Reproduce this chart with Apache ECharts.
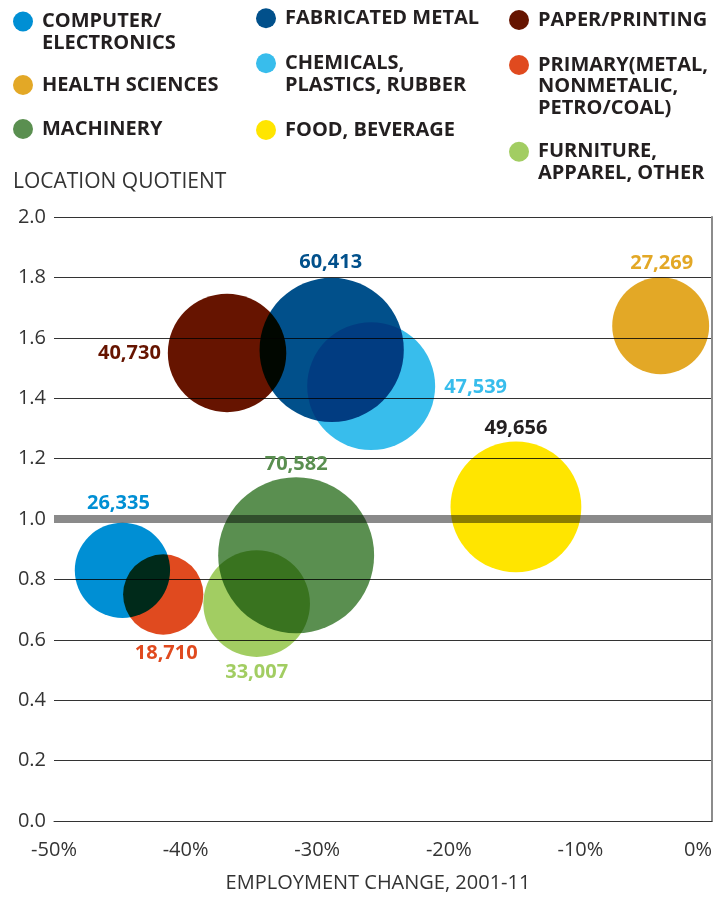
<!DOCTYPE html>
<html><head><meta charset="utf-8">
<script src="https://cdn.jsdelivr.net/npm/echarts@6/dist/echarts.min.js"></script>
<style>html,body{margin:0;padding:0;background:#fff}#chart{width:724px;height:898px}</style>
</head><body><div id="chart"></div>
<script>
// ---- data ----
const industries = [
  'COMPUTER/\nELECTRONICS',
  'HEALTH SCIENCES',
  'MACHINERY',
  'FABRICATED METAL',
  'CHEMICALS,\nPLASTICS, RUBBER',
  'FOOD, BEVERAGE',
  'PAPER/PRINTING',
  'PRIMARY(METAL,\nNONMETALIC,\nPETRO/COAL)',
  'FURNITURE,\nAPPAREL, OTHER'
];
const employmentChange = [-44.8, -3.9, -31.6, -28.9, -25.9, -14.9, -36.85, -41.7, -34.6];
const locationQuotient = [0.83, 1.64, 0.88, 1.56, 1.44, 1.04, 1.55, 0.75, 0.72];
const employment = [26335, 27269, 70582, 60413, 47539, 49656, 40730, 18710, 33007];
const referenceLQ = [1.0];

// ---- styles ----
const FONT = 'Open Sans';
const colors = ['#008fd4', '#e3a826', '#5a8f50', '#01508b', '#38bdec', '#ffe500', '#661400', '#e04a1f', '#a2cd62'];
const labelColors = ['#008fd4', '#e3a826', '#5a8f50', '#01508b', '#38bdec', '#231f20', '#661400', '#e04a1f', '#a2cd62'];
const labelPositions = ['top', 'top', 'top', 'top', 'right', 'top', 'left', 'bottom', 'bottom'];
const labelDistances = [9, 4, 2.5, 5, 9, 3.7, 7, 8.5, 5.3];
const labelOffsets = [[-4, 0], [1, 0], [0, 0], [-1, 0], [0, 1], [0, 0], [0, 0], [3, 0], [0, 0]];
const legendSpots = [[23, 21.5], [23, 85], [23, 129], [266, 18.3], [266, 63.3], [266, 130], [519, 20], [519, 65], [519, 151.7]];
const LH = 21.5;

// circle icon sitting beside the first text line (invisible corner points fix the icon box size)
function legendIcon(lines) {
  const h = lines * LH, cy = LH / 2;
  return 'path://M0,0L0,0M28,' + h + 'L28,' + h +
    'M4,' + cy + 'A10,10,0,1,0,24,' + cy + 'A10,10,0,1,0,4,' + cy + 'Z';
}

const chart = echarts.init(document.getElementById('chart'), null, {renderer: 'canvas'});

const legends = industries.map((name, i) => {
  const n = name.split('\n').length;
  return {
    data: [name],
    left: legendSpots[i][0] - 14,
    top: legendSpots[i][1] - LH / 2,
    padding: 0,
    itemWidth: 28,
    itemHeight: n * LH,
    icon: legendIcon(n),
    selectedMode: false,
    textStyle: {
      fontFamily: FONT, fontSize: 20, fontWeight: 'bold', color: '#231f20', lineHeight: LH
    }
  };
});

const bubbleSeries = industries.map((name, i) => ({
  type: 'scatter',
  name: name,
  data: [[employmentChange[i], locationQuotient[i], employment[i]]],
  symbolSize: d => Math.sqrt(d[2]) * 0.587,
  itemStyle: {color: colors[i], opacity: 1},
  blendMode: 'multiply',
  emphasis: {disabled: true},
  z: 3,
  label: {
    show: true,
    position: labelPositions[i],
    distance: labelDistances[i],
    offset: labelOffsets[i],
    formatter: p => p.value[2].toLocaleString('en-US'),
    color: labelColors[i],
    fontFamily: FONT,
    fontSize: 20,
    fontWeight: 'bold'
  }
}));

const option = {
  animation: false,
  backgroundColor: '#fff',
  title: {
    text: 'LOCATION QUOTIENT',
    left: 13, top: 172, padding: 0,
    textStyle: {fontFamily: FONT, fontSize: 21, fontWeight: 'normal', color: '#333'}
  },
  legend: legends,
  grid: {left: 54, right: 12, top: 217, bottom: 76, containLabel: false},
  xAxis: {
    type: 'value', min: -50, max: 0, interval: 10,
    name: 'EMPLOYMENT CHANGE, 2001-11',
    nameLocation: 'middle', nameGap: 52,
    nameTextStyle: {fontFamily: FONT, fontSize: 20, color: '#333', padding: [0, 10, 0, 0]},
    axisLine: {show: true, lineStyle: {color: '#333', width: 1}},
    axisTick: {show: false},
    splitLine: {show: false},
    axisLabel: {formatter: '{value}%', fontFamily: FONT, fontSize: 20, color: '#333', margin: 19, alignMaxLabel: 'right'}
  },
  yAxis: [{
    type: 'value', min: 0, max: 2, interval: 0.2,
    axisLine: {show: false},
    axisTick: {show: false},
    splitLine: {show: true, lineStyle: {color: '#333', width: 1}},
    axisLabel: {formatter: v => v.toFixed(1), fontFamily: FONT, fontSize: 20, color: '#333', margin: 8}
  }, {
    type: 'value', min: 0, max: 2, interval: 0.2, position: 'right',
    axisLine: {show: true, lineStyle: {color: '#8c8c8c', width: 2}},
    axisTick: {show: false},
    splitLine: {show: false},
    axisLabel: {show: false}
  }],
  series: [{
    type: 'line',
    data: [[-50, referenceLQ[0]], [0, referenceLQ[0]]],
    symbol: 'none',
    silent: true,
    z: 2,
    lineStyle: {color: '#8a8a8a', width: 8}
  }].concat(bubbleSeries)
};
chart.setOption(option);
</script>
</body></html>
